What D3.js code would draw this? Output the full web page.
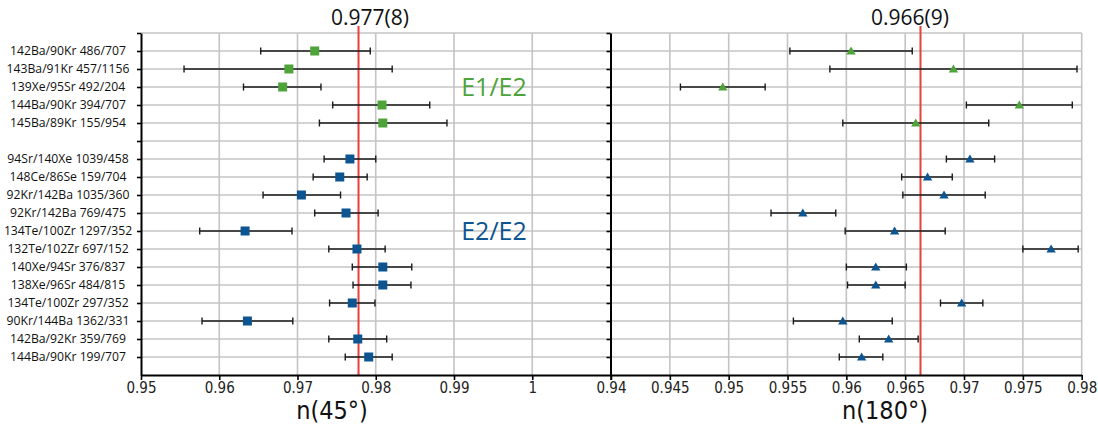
<!DOCTYPE html>
<html><head><meta charset="utf-8">
<script src="https://cdn.jsdelivr.net/npm/d3@7"></script>
<style>body{margin:0;background:#fff}svg{display:block}</style>
</head><body>
<script>
const labels = ["142Ba/90Kr 486/707","143Ba/91Kr 457/1156","139Xe/95Sr 492/204","144Ba/90Kr 394/707","145Ba/89Kr 155/954","",
 "94Sr/140Xe 1039/458","148Ce/86Se 159/704","92Kr/142Ba 1035/360","92Kr/142Ba 769/475","134Te/100Zr 1297/352","132Te/102Zr 697/152",
 "140Xe/94Sr 376/837","138Xe/96Sr 484/815","134Te/100Zr 297/352","90Kr/144Ba 1362/331","142Ba/92Kr 359/769","144Ba/90Kr 199/707"];
const groups = ["E1/E2","E1/E2","E1/E2","E1/E2","E1/E2",null,"E2/E2","E2/E2","E2/E2","E2/E2","E2/E2","E2/E2","E2/E2","E2/E2","E2/E2","E2/E2","E2/E2","E2/E2"];
const n45   = [0.9722,0.9689,0.9681,0.9808,0.9809,null,0.9767,0.9754,0.9705,0.9762,0.9633,0.9776,0.9809,0.9809,0.9770,0.9636,0.9777,0.9791];
const n45Lo = [0.9653,0.9555,0.9631,0.9745,0.9728,null,0.9734,0.9720,0.9656,0.9722,0.9575,0.9740,0.9770,0.9771,0.9741,0.9578,0.9740,0.9761];
const n45Hi = [0.9793,0.9821,0.9730,0.9869,0.9891,null,0.9800,0.9789,0.9755,0.9803,0.9693,0.9812,0.9846,0.9845,0.9799,0.9694,0.9814,0.9821];
const n180   = [0.9604,0.9691,0.9495,0.9747,0.9659,null,0.9705,0.9669,0.9683,0.9563,0.9641,0.9774,0.9625,0.9625,0.9698,0.9597,0.9636,0.9613];
const n180Lo = [0.9552,0.9586,0.9459,0.9702,0.9597,null,0.9685,0.9647,0.9648,0.9536,0.9599,0.9750,0.9600,0.9601,0.9680,0.9555,0.9611,0.9594];
const n180Hi = [0.9656,0.9796,0.9531,0.9792,0.9721,null,0.9726,0.9690,0.9718,0.9591,0.9684,0.9797,0.9651,0.9650,0.9716,0.9639,0.9661,0.9631];
const mean45 = 0.9778, mean45Label = "0.977(8)";
const mean180 = 0.9663, mean180Label = "0.966(9)";
const ticks45 = [0.95,0.96,0.97,0.98,0.99,1.00];
const ticks45Labels = ["0.95","0.96","0.97","0.98","0.99","1"];
const ticks180 = [0.94,0.945,0.95,0.955,0.96,0.965,0.97,0.975,0.98];
const ticks180Labels = ["0.94","0.945","0.95","0.955","0.96","0.965","0.97","0.975","0.98"];
const title45 = "n(45°)", title180 = "n(180°)";
const groupNames = ["E1/E2","E2/E2"];

const W=1098,H=425;
const colors = {"E1/E2":"#4ea43a","E2/E2":"#0c5591"};
const svg = d3.select("body").append("svg").attr("width",W).attr("height",H);
const y = d3.scaleLinear().domain([0,19]).range([33,375]);
const xL = d3.scaleLinear().domain([0.95,1.01]).range([141,610.5]);
const xR = d3.scaleLinear().domain([0.94,0.98]).range([611,1081.7]);
const rows = d3.range(labels.length);
const grid = "#c4c4c4";

// horizontal gridlines
svg.append("g").selectAll("line").data(d3.range(0,19)).join("line")
  .attr("x1",141).attr("x2",xR(0.98)).attr("y1",d=>y(d)).attr("y2",d=>y(d))
  .attr("stroke",grid).attr("stroke-width",1.6);
// vertical gridlines
svg.append("g").selectAll("line").data(ticks45.slice(1)).join("line")
  .attr("x1",d=>xL(d)).attr("x2",d=>xL(d)).attr("y1",y(0)).attr("y2",y(19))
  .attr("stroke",grid).attr("stroke-width",1.6);
svg.append("g").selectAll("line").data(ticks180.slice(1)).join("line")
  .attr("x1",d=>xR(d)).attr("x2",d=>xR(d)).attr("y1",y(0)).attr("y2",y(19))
  .attr("stroke",grid).attr("stroke-width",1.6);

// red mean lines
svg.append("line").attr("x1",xL(mean45)).attr("x2",xL(mean45)).attr("y1",26).attr("y2",y(19))
  .attr("stroke","#e8403c").attr("stroke-width",2);
svg.append("line").attr("x1",xR(mean180)).attr("x2",xR(mean180)).attr("y1",26).attr("y2",y(19))
  .attr("stroke","#e8403c").attr("stroke-width",2);

// axes
function styleAxis(g){
  g.selectAll(".domain").attr("stroke","#000").attr("stroke-width",2);
  g.selectAll(".tick line").attr("stroke","#000").attr("stroke-width",1.6);
}
const tickFont = "'Liberation Sans Narrow','DejaVu Sans Condensed',sans-serif";
const gxL = svg.append("g").attr("transform",`translate(0,${y(19)})`)
  .call(d3.axisBottom(xL).tickValues(ticks45.concat([1.01])).tickFormat((d,i)=>i<ticks45Labels.length?ticks45Labels[i]:"").tickSize(5).tickSizeOuter(0));
styleAxis(gxL);
const gxR = svg.append("g").attr("transform",`translate(0,${y(19)})`)
  .call(d3.axisBottom(xR).tickValues(ticks180).tickFormat((d,i)=>ticks180Labels[i]).tickSize(5).tickSizeOuter(0));
styleAxis(gxR);
svg.selectAll(".tick text").attr("font-family",tickFont).attr("font-size",15).attr("fill","#222").attr("dy","0.75em").attr("y",7);

const gyL = svg.append("g").attr("transform",`translate(141,0)`)
  .call(d3.axisLeft(y).tickValues(d3.range(0,19)).tickFormat("").tickSize(4).tickSizeOuter(0));
styleAxis(gyL);
const gyR = svg.append("g").attr("transform",`translate(610.5,0)`)
  .call(d3.axisLeft(y).tickValues(d3.range(0,19)).tickFormat("").tickSize(4).tickSizeOuter(0));
styleAxis(gyR);

// row labels
svg.append("g").selectAll("text").data(rows.filter(i=>labels[i]!=="")).join("text")
  .attr("x",68).attr("y",i=>y(i+1)).attr("dy","0.36em").attr("text-anchor","middle")
  .attr("font-family","'Open Sans',sans-serif").attr("font-size",12.2).attr("fill","#111")
  .text(i=>labels[i]);

// error bars + markers
function drawPanel(x, v, lo, hi, shape){
  const g = svg.append("g");
  const idx = rows.filter(i=>v[i]!==null);
  g.selectAll("line.bar").data(idx).join("line").attr("class","bar")
    .attr("x1",i=>x(lo[i])).attr("x2",i=>x(hi[i])).attr("y1",i=>y(i+1)).attr("y2",i=>y(i+1))
    .attr("stroke","#1a1a1a").attr("stroke-width",1.4);
  ["lo","hi"].forEach(k=>{
    const arr = k==="lo"?lo:hi;
    g.selectAll("line.cap"+k).data(idx).join("line").attr("class","cap"+k)
      .attr("x1",i=>x(arr[i])).attr("x2",i=>x(arr[i])).attr("y1",i=>y(i+1)-3.5).attr("y2",i=>y(i+1)+3.5)
      .attr("stroke","#1a1a1a").attr("stroke-width",1.4);
  });
  if(shape==="square"){
    g.selectAll("rect").data(idx).join("rect")
      .attr("x",i=>x(v[i])-4.5).attr("y",i=>y(i+1)-4.5).attr("width",9).attr("height",9)
      .attr("fill",i=>colors[groups[i]]);
  } else {
    const sym = d3.symbol().type(d3.symbolTriangle).size(38);
    g.selectAll("path").data(idx).join("path")
      .attr("transform",i=>`translate(${x(v[i])},${y(i+1)+0.8})`).attr("d",sym)
      .attr("fill",i=>colors[groups[i]]);
  }
}
drawPanel(xL,n45,n45Lo,n45Hi,"square");
drawPanel(xR,n180,n180Lo,n180Hi,"triangle");

// group annotations
svg.append("text").attr("x",494).attr("y",y(3)).attr("dy","0.36em").attr("text-anchor","middle")
  .attr("font-family","'Open Sans',sans-serif").attr("font-size",25).attr("fill",colors["E1/E2"]).text(groupNames[0]);
svg.append("text").attr("x",494).attr("y",y(11)).attr("dy","0.36em").attr("text-anchor","middle")
  .attr("font-family","'Open Sans',sans-serif").attr("font-size",25).attr("fill",colors["E2/E2"]).text(groupNames[1]);

// mean labels
svg.append("text").attr("x",370).attr("y",25).attr("text-anchor","middle")
  .attr("font-family","'Open Sans',sans-serif").attr("font-size",21).attr("fill","#111").text(mean45Label);
svg.append("text").attr("x",910).attr("y",25).attr("text-anchor","middle")
  .attr("font-family","'Open Sans',sans-serif").attr("font-size",21).attr("fill","#111").text(mean180Label);

// axis titles
svg.append("text").attr("x",332).attr("y",419).attr("text-anchor","middle")
  .attr("font-family",tickFont).attr("font-size",25).attr("fill","#111").text(title45);
svg.append("text").attr("x",885).attr("y",419).attr("text-anchor","middle")
  .attr("font-family",tickFont).attr("font-size",25).attr("fill","#111").text(title180);
</script>
</body></html>
